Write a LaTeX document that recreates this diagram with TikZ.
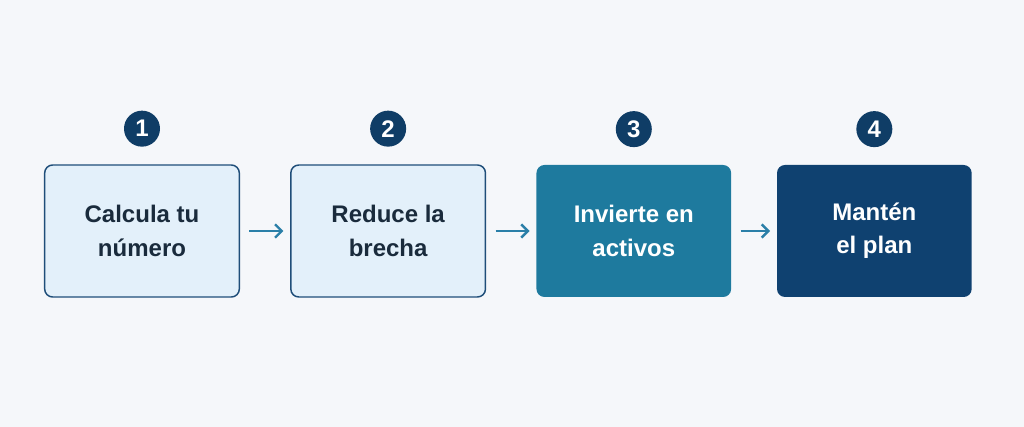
\documentclass[tikz,border=0pt]{standalone}
\usepackage{fontspec}
\setmainfont{Liberation Sans}
\usetikzlibrary{positioning}
\usetikzlibrary{arrows.meta}
\definecolor{bgcol}{HTML}{F5F7FA}
\definecolor{lightfill}{HTML}{E3F0FA}
\definecolor{edgecol}{HTML}{1F4E79}
\definecolor{textcol}{HTML}{1A2B3C}
\definecolor{tealfill}{HTML}{1E7A9E}
\definecolor{navyfill}{HTML}{0F4170}
\definecolor{badgecol}{HTML}{0F3D66}
\definecolor{arrowcol}{HTML}{2A7FA8}
\tikzset {
  stepbox/.style = {
    rectangle,
    rounded corners = 6pt,
    minimum width = 146pt,
    minimum height = 99pt,
    align = center,
    font = \fontsize{18}{25}\selectfont\bfseries
  },
  % light boxes
  lightbox/.style = {
    stepbox,
    draw = edgecol,
    line width = 1.1pt,
    fill = lightfill,
    text = textcol
  },
  % dark boxes
  darkbox/.style = {
    stepbox,
    fill = #1,
    text = white
  },
  % number badge
  badge/.style = {
    circle,
    fill = badgecol,
    text = white,
    minimum size = 27pt,
    inner sep = 0,
    font = \fontsize{18}{18}\selectfont\bfseries
  },
  flow/.style = {
    draw = arrowcol,
    line width = 1.8pt,
    -{Straight Barb[length=5pt,width=10pt]},
    shorten < = 7pt,
    shorten > = 5pt
  },
  node distance = 37.5pt
}
\begin{document}
\begin{tikzpicture}
  \fill[bgcol] (0,0) rectangle (768pt,320.25pt);
  \useasboundingbox (0,0) rectangle (768pt,320.25pt);

  \node[lightbox] (calc) at (106.5pt,147pt) {Calcula tu\\número};
  \node[lightbox] (gap) [right=of calc] {Reduce la\\brecha};
  \node[darkbox=tealfill] (invest) [right=of gap] {Invierte en\\activos};
  \node[darkbox=navyfill] (keep) [right=34pt of invest] {Mantén\\el plan};

  \node[badge] (one) [above=13pt of calc] {1};
  \node[badge] (two) [above=13pt of gap] {2};
  \node[badge] (three) [above=13pt of invest] {3};
  \node[badge] (four) [above=13pt of keep] {4};

  \draw[flow] (calc) -- (gap);
  \draw[flow] (gap) -- (invest);
  \draw[flow] (invest) -- (keep);
\end{tikzpicture}
\end{document}
